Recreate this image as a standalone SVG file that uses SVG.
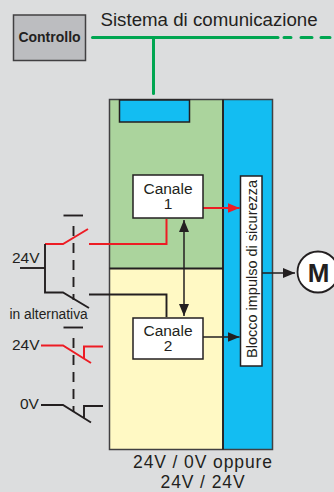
<svg xmlns="http://www.w3.org/2000/svg" width="334" height="492" viewBox="0 0 334 492">
<defs>
<marker id="ak" markerUnits="userSpaceOnUse" markerWidth="12" markerHeight="10" refX="12" refY="5" orient="auto-start-reverse"><path d="M0 0L12 5L0 10Z" fill="#231f20"/></marker>
<marker id="ar" markerUnits="userSpaceOnUse" markerWidth="12" markerHeight="10" refX="12" refY="5" orient="auto"><path d="M0 0L12 5L0 10Z" fill="#ed1c24"/></marker>
</defs>
<style>
text{font-family:"Liberation Sans",Arial,sans-serif;fill:#231f20}
.b{fill:none;stroke:#231f20;stroke-width:1.900}
.k{fill:none;stroke:#231f20;stroke-width:1.500}
.r{fill:none;stroke:#ed1c24;stroke-width:2}
.g{fill:none;stroke:#00a651;stroke-width:3}
.box{fill:#fff;stroke:#231f20;stroke-width:1.500}
.t{font-size:15.500px;text-anchor:middle}
.v{font-size:15.500px}
.f{font-size:17.500px;letter-spacing:0.900px;text-anchor:middle}
</style>
<rect width="334" height="492" fill="#dcddde"/>
<g id="controllo"><rect x="13.500" y="15" width="72" height="45.500" fill="#bcbdc0" stroke="#414042" stroke-width="1.500"/><text x="49.500" y="41.500" font-size="14" font-weight="bold" text-anchor="middle">Controllo</text></g>
<text x="100.500" y="26" font-size="18.700">Sistema di comunicazione</text>
<g id="modulo">
<rect x="109.500" y="99.500" width="114" height="169" fill="#abd49d"/>
<rect x="109.500" y="268.500" width="114" height="181" fill="#fff9c4"/>
<rect x="223.500" y="99.500" width="49" height="350" fill="#13bdf2"/>
<rect x="109.500" y="99.500" width="163" height="350" fill="none" stroke="#414042" stroke-width="1.500"/>
<path class="b" d="M223 99.500V449.500M109.500 268.500H223"/>
<rect x="119.500" y="100" width="70" height="22" fill="#13bdf2" stroke="#231f20" stroke-width="1.500"/>
</g>
<g id="connettori">
<path class="g" d="M92.500 37.500H278" stroke-linecap="round"/>
<path class="g" d="M284 37.500H291M301 37.500H312M321 37.500H330" stroke-linecap="round"/>
<path class="g" d="M153.500 37.500V93.500" stroke-linecap="round"/>
<path class="k" d="M184 220V316" marker-start="url(#ak)" marker-end="url(#ak)"/>
<path class="r" d="M203 208H239.500" marker-end="url(#ar)"/>
<path class="k" d="M203 337H239.500" marker-end="url(#ak)"/>
<path class="k" d="M262 273H295" marker-end="url(#ak)"/>
<path class="r" d="M89 244H166.500V219"/>
<path class="b" d="M89 294.500H166.500V317"/>
<path class="r" d="M45 244H63L88 229"/>
<path class="b" d="M20 268H45"/>
<path class="b" d="M45 244V292.500H63L89 308"/>
<path class="b" d="M63.500 215.500H83"/>
<path class="b" d="M73.500 226V300" stroke-dasharray="10 7"/>
<path class="b" d="M63.500 327.500H83"/>
<path class="b" d="M73.500 338V412" stroke-dasharray="10 7"/>
<path class="r" d="M41 345.500H63L91 363M84 359V346.500H103"/>
<path class="b" d="M41 405H63L91 422.500M84 418V406H103"/>
</g>
<g id="canale1"><rect x="133" y="175" width="70" height="43" class="box"/><text class="t" x="168" y="194">Canale</text><text class="t" x="168" y="208.500">1</text></g>
<g id="canale2"><rect x="133" y="318" width="70" height="41" class="box"/><text class="t" x="168" y="336">Canale</text><text class="t" x="168" y="351">2</text></g>
<g id="blocco"><rect x="240.500" y="176" width="21.500" height="190" class="box"/><text transform="translate(257 358) rotate(-90)" font-size="14.500">Blocco impulso di sicurezza</text></g>
<g id="motore"><circle cx="318" cy="272" r="20.500" fill="#fff" stroke="#231f20" stroke-width="1.800"/><text x="318.500" y="282" font-size="26" font-weight="bold" text-anchor="middle">M</text></g>
<text class="v" x="12" y="263">24V</text>
<text x="9.500" y="319" font-size="13.800">in alternativa</text>
<text class="v" x="12" y="350">24V</text>
<text class="v" x="20" y="409">0V</text>
<text class="f" x="203" y="467.500">24V / 0V oppure</text>
<text class="f" x="203" y="488">24V / 24V</text>
</svg>
